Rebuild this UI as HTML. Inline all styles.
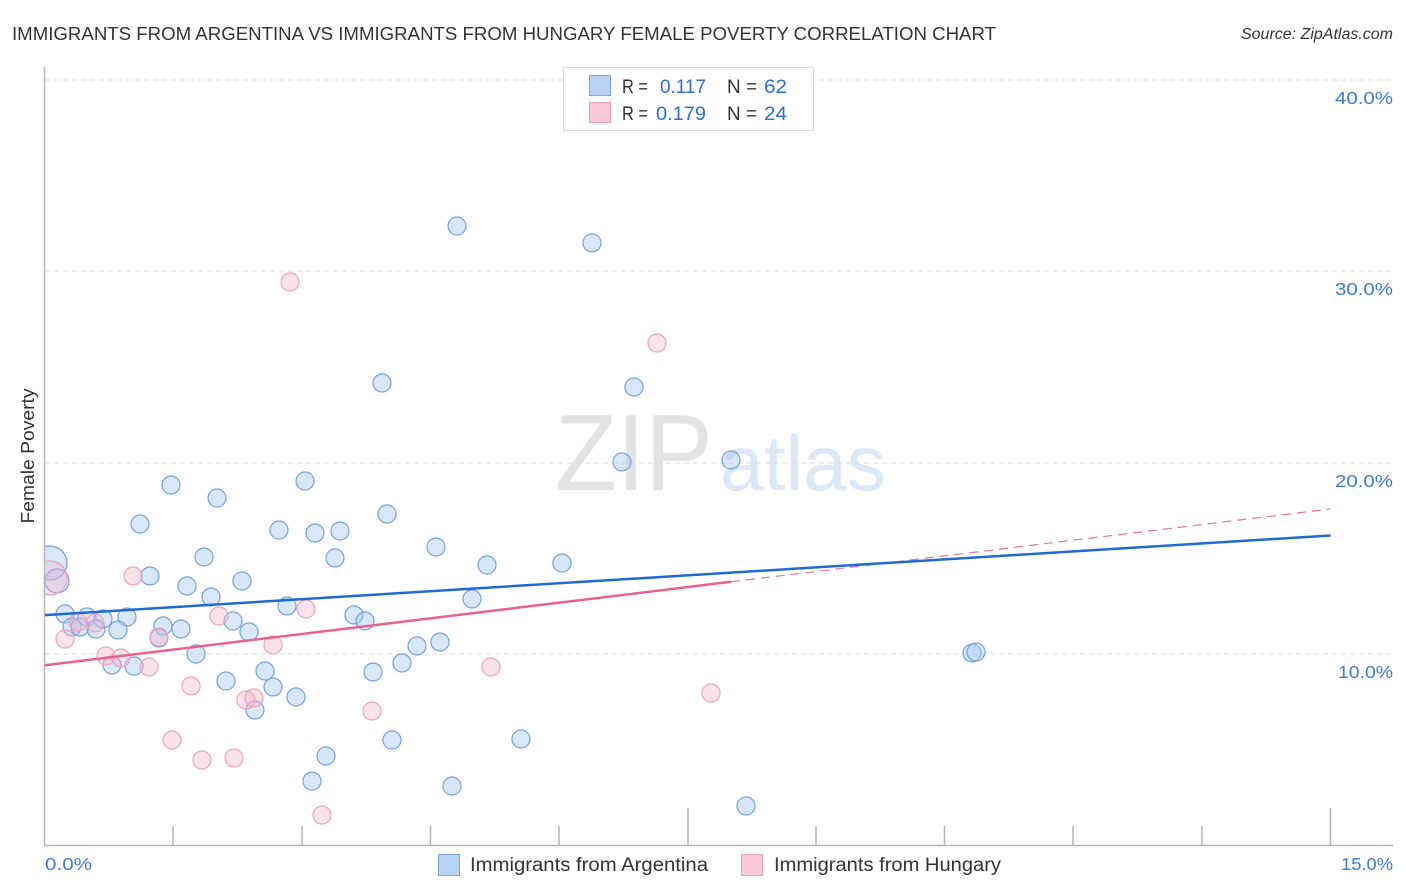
<!DOCTYPE html>
<html>
<head>
<meta charset="utf-8">
<style>
  html,body{margin:0;padding:0;background:#fff;}
  svg{display:block;}
  text{font-family:"Liberation Sans",Arial,sans-serif;}
</style>
</head>
<body>
<svg width="1406" height="892" viewBox="0 0 1406 892" xmlns="http://www.w3.org/2000/svg">
  <rect width="1406" height="892" fill="#fff"/>

  <text x="12" y="40" font-size="18" fill="#333" textLength="984" lengthAdjust="spacingAndGlyphs">IMMIGRANTS FROM ARGENTINA VS IMMIGRANTS FROM HUNGARY FEMALE POVERTY CORRELATION CHART</text>
  <text x="1393" y="39" font-size="15.5" fill="#333" font-style="italic" text-anchor="end" textLength="152" lengthAdjust="spacingAndGlyphs">Source: ZipAtlas.com</text>

  <text x="555" y="490" font-family="'Liberation Serif',serif" font-size="109" fill="#e3e3e3" textLength="158" lengthAdjust="spacingAndGlyphs">ZIP</text>
  <text x="720" y="490" font-size="78" fill="#dce7f7" textLength="166" lengthAdjust="spacingAndGlyphs">atlas</text>

  <g stroke="#dcdcdc" stroke-width="1" stroke-dasharray="5,4">
    <line x1="45" y1="80" x2="1393" y2="80"/>
    <line x1="45" y1="271" x2="1393" y2="271"/>
    <line x1="45" y1="463" x2="1393" y2="463"/>
    <line x1="45" y1="654" x2="1393" y2="654"/>
  </g>

  <g stroke="#b5b5b5" stroke-width="1.5">
    <line x1="44.5" y1="67" x2="44.5" y2="846"/>
    <line x1="44" y1="845.5" x2="1393" y2="845.5"/>
    <line x1="173" y1="826" x2="173" y2="845"/>
    <line x1="302" y1="826" x2="302" y2="845"/>
    <line x1="430.5" y1="826" x2="430.5" y2="845"/>
    <line x1="559" y1="826" x2="559" y2="845"/>
    <line x1="688" y1="808" x2="688" y2="845"/>
    <line x1="816" y1="826" x2="816" y2="845"/>
    <line x1="944.5" y1="826" x2="944.5" y2="845"/>
    <line x1="1073" y1="826" x2="1073" y2="845"/>
    <line x1="1202" y1="826" x2="1202" y2="845"/>
    <line x1="1330.5" y1="808" x2="1330.5" y2="845"/>
  </g>

  <g font-size="17.5" fill="#3f7bd6">
    <text x="1393" y="104" text-anchor="end" textLength="58" lengthAdjust="spacingAndGlyphs">40.0%</text>
    <text x="1393" y="295" text-anchor="end" textLength="58" lengthAdjust="spacingAndGlyphs">30.0%</text>
    <text x="1393" y="487" text-anchor="end" textLength="58" lengthAdjust="spacingAndGlyphs">20.0%</text>
    <text x="1393" y="678" text-anchor="end" textLength="55" lengthAdjust="spacingAndGlyphs">10.0%</text>
    <text x="45" y="870" textLength="47" lengthAdjust="spacingAndGlyphs">0.0%</text>
    <text x="1393" y="870" text-anchor="end" textLength="52" lengthAdjust="spacingAndGlyphs">15.0%</text>
  </g>
  <text transform="translate(34,456) rotate(-90)" font-size="18.5" fill="#333" text-anchor="middle" textLength="135" lengthAdjust="spacingAndGlyphs">Female Poverty</text>

  <defs>
    <clipPath id="plot"><rect x="45" y="60" width="1360" height="785"/></clipPath>
  </defs>

  <g clip-path="url(#plot)">
    <g fill="rgba(165,198,242,0.42)" stroke="#73a2e3" stroke-width="1.2">
      <circle cx="50" cy="563" r="17"/>
      <circle cx="57" cy="581" r="12"/>
      <circle cx="457" cy="226" r="9"/>
      <circle cx="592" cy="243" r="9"/>
      <circle cx="382" cy="383" r="9"/>
      <circle cx="634" cy="387" r="9"/>
      <circle cx="622" cy="462" r="9"/>
      <circle cx="731" cy="460" r="9"/>
      <circle cx="171" cy="485" r="9"/>
      <circle cx="217" cy="498" r="9"/>
      <circle cx="305" cy="481" r="9"/>
      <circle cx="140" cy="524" r="9"/>
      <circle cx="279" cy="530" r="9"/>
      <circle cx="315" cy="533" r="9"/>
      <circle cx="340" cy="531" r="9"/>
      <circle cx="387" cy="514" r="9"/>
      <circle cx="204" cy="557" r="9"/>
      <circle cx="335" cy="558" r="9"/>
      <circle cx="436" cy="547" r="9"/>
      <circle cx="487" cy="565" r="9"/>
      <circle cx="562" cy="563" r="9"/>
      <circle cx="150" cy="576" r="9"/>
      <circle cx="187" cy="586" r="9"/>
      <circle cx="242" cy="581" r="9"/>
      <circle cx="211" cy="597" r="9"/>
      <circle cx="472" cy="599" r="9"/>
      <circle cx="287" cy="606" r="9"/>
      <circle cx="354" cy="615" r="9"/>
      <circle cx="365" cy="621" r="9"/>
      <circle cx="65" cy="614" r="9"/>
      <circle cx="72" cy="627" r="9"/>
      <circle cx="80" cy="627" r="9"/>
      <circle cx="87" cy="617" r="9"/>
      <circle cx="103" cy="619" r="9"/>
      <circle cx="96" cy="629" r="9"/>
      <circle cx="127" cy="617" r="9"/>
      <circle cx="118" cy="630" r="9"/>
      <circle cx="163" cy="626" r="9"/>
      <circle cx="181" cy="629" r="9"/>
      <circle cx="159" cy="638" r="9"/>
      <circle cx="233" cy="621" r="9"/>
      <circle cx="249" cy="632" r="9"/>
      <circle cx="196" cy="654" r="9"/>
      <circle cx="417" cy="646" r="9"/>
      <circle cx="440" cy="642" r="9"/>
      <circle cx="112" cy="665" r="9"/>
      <circle cx="134" cy="666" r="9"/>
      <circle cx="402" cy="663" r="9"/>
      <circle cx="373" cy="672" r="9"/>
      <circle cx="265" cy="671" r="9"/>
      <circle cx="226" cy="681" r="9"/>
      <circle cx="273" cy="687" r="9"/>
      <circle cx="296" cy="697" r="9"/>
      <circle cx="255" cy="710" r="9"/>
      <circle cx="392" cy="740" r="9"/>
      <circle cx="326" cy="756" r="9"/>
      <circle cx="312" cy="781" r="9"/>
      <circle cx="452" cy="786" r="9"/>
      <circle cx="521" cy="739" r="9"/>
      <circle cx="746" cy="806" r="9"/>
      <circle cx="972" cy="653" r="9"/>
      <circle cx="976" cy="652" r="9"/>
    </g>
    <g fill="rgba(246,178,200,0.38)" stroke="#efa2b9" stroke-width="1.2">
      <circle cx="50" cy="578" r="17"/>
      <circle cx="290" cy="282" r="9"/>
      <circle cx="657" cy="343" r="9"/>
      <circle cx="133" cy="576" r="9"/>
      <circle cx="95" cy="623" r="9"/>
      <circle cx="78" cy="622" r="9"/>
      <circle cx="65" cy="639" r="9"/>
      <circle cx="159" cy="637" r="9"/>
      <circle cx="219" cy="616" r="9"/>
      <circle cx="306" cy="609" r="9"/>
      <circle cx="273" cy="645" r="9"/>
      <circle cx="106" cy="656" r="9"/>
      <circle cx="121" cy="658" r="9"/>
      <circle cx="149" cy="667" r="9"/>
      <circle cx="191" cy="686" r="9"/>
      <circle cx="246" cy="700" r="9"/>
      <circle cx="254" cy="698" r="9"/>
      <circle cx="372" cy="711" r="9"/>
      <circle cx="172" cy="740" r="9"/>
      <circle cx="202" cy="760" r="9"/>
      <circle cx="234" cy="758" r="9"/>
      <circle cx="322" cy="815" r="9"/>
      <circle cx="491" cy="667" r="9"/>
      <circle cx="711" cy="693" r="9"/>
    </g>
  </g>

  <line x1="731" y1="581.8" x2="1330" y2="509" stroke="#e8749a" stroke-width="1.2" stroke-dasharray="9,6"/>
  <line x1="45" y1="665.2" x2="731" y2="581.8" stroke="#e8638c" stroke-width="2.5"/>
  <line x1="45" y1="615.1" x2="1330.5" y2="535.5" stroke="#1f6bd0" stroke-width="2.5"/>

  <rect x="563.5" y="67.5" width="250" height="63" fill="#fff" stroke="#dadada" stroke-width="1"/>
  <rect x="589.5" y="75.5" width="21" height="20" fill="#b9d2f4" stroke="#7aa6e4" stroke-width="1"/>
  <rect x="589.5" y="102.5" width="21" height="20" fill="#fac9d7" stroke="#f0a0b8" stroke-width="1"/>
  <g font-size="19.5">
    <text x="622" y="93" fill="#333" textLength="26" lengthAdjust="spacingAndGlyphs">R =</text>
    <text x="660" y="93" fill="#2f6fd0" textLength="46" lengthAdjust="spacingAndGlyphs">0.117</text>
    <text x="727" y="93" fill="#333" textLength="30" lengthAdjust="spacingAndGlyphs">N =</text>
    <text x="764" y="93" fill="#2f6fd0" textLength="23" lengthAdjust="spacingAndGlyphs">62</text>
    <text x="622" y="120" fill="#333" textLength="26" lengthAdjust="spacingAndGlyphs">R =</text>
    <text x="656" y="120" fill="#2f6fd0" textLength="50" lengthAdjust="spacingAndGlyphs">0.179</text>
    <text x="727" y="120" fill="#333" textLength="30" lengthAdjust="spacingAndGlyphs">N =</text>
    <text x="764" y="120" fill="#2f6fd0" textLength="23" lengthAdjust="spacingAndGlyphs">24</text>
  </g>

  <rect x="438.5" y="854.5" width="21" height="21" fill="#b9d2f4" stroke="#7aa6e4" stroke-width="1"/>
  <text x="470" y="871" font-size="19" fill="#333" textLength="238" lengthAdjust="spacingAndGlyphs">Immigrants from Argentina</text>
  <rect x="741.5" y="854.5" width="21" height="21" fill="#fac9d7" stroke="#f0a0b8" stroke-width="1"/>
  <text x="774" y="871" font-size="19" fill="#333" textLength="227" lengthAdjust="spacingAndGlyphs">Immigrants from Hungary</text>
</svg>
</body>
</html>
